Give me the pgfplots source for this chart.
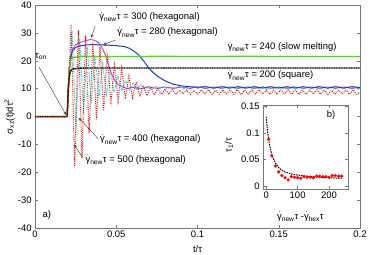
\documentclass[border=0pt]{standalone}
\usepackage{fontspec}
\setmainfont{Liberation Sans}
\usepackage{amsmath}
\usepackage{pgfplots}
\pgfplotsset{compat=1.18}
\definecolor{cgreen}{RGB}{70,225,20}
\definecolor{cblue}{RGB}{30,60,210}
\definecolor{cmag}{RGB}{180,70,210}
\definecolor{ccyan}{RGB}{70,225,210}
\definecolor{cframe}{RGB}{120,120,120}
\newcommand{\gd}[1]{$\dot{\text{γ}}_{\text{#1}}$τ}
\begin{document}
\fontsize{9.5}{11}\selectfont
\begin{tikzpicture}
\begin{axis}[
  scale only axis, width=325bp, height=223bp,
  xmin=0, xmax=0.2, ymin=-40, ymax=40,
  xtick={0,0.05,0.1,0.15,0.2}, xticklabels={0,0.05,0.1,0.15,0.2},
  ytick={-40,-30,-20,-10,0,10,20,30,40},
  yticklabels={-40,-30,-20,-10,0,10,20,30,40},
  tick align=inside, major tick length=3bp,
  axis line style={cframe}, every tick/.style={cframe},
  /pgf/number format/assume math mode=true,
  tick label style={font=\fontsize{9.5}{11}\selectfont},
  xlabel={t/τ}, ylabel={σ\textsubscript{xz}(t)dτ\textsuperscript{2}},
  x label style={at={(axis description cs:0.5,-0.093)}, anchor=center},
  y label style={at={(axis description cs:-0.078,0.5)}, anchor=center},
  clip=true,
]
% cyan (400)
\addplot[ccyan, line width=0.9pt, dash pattern=on 3pt off 1pt] coordinates {
(0,0) (0.0198,0)
(0.0228,31) (0.0252,-5) (0.0275,28) (0.0299,1) (0.0322,25) (0.0346,4.5)
(0.0369,22) (0.0393,6.5) (0.0416,19) (0.0440,7.8) (0.0463,16.5) (0.0487,8.6)
(0.0510,14.5) (0.0534,9.1) (0.0557,13) (0.0581,9.4) (0.0604,12) (0.0628,9.6)
(0.0651,11.4) (0.0675,9.7) (0.0698,11.0) (0.0722,9.8) (0.0745,10.8) (0.0769,9.9)
(0.0792,10.7) (0.0816,9.9) (0.0839,10.6) (0.0863,10.0) (0.0886,10.8) (0.0910,9.8)
(0.0933,10.6) (0.0957,9.9) (0.0980,10.7) (0.1004,10.0) (0.1027,10.8) (0.1051,9.8)
(0.1074,10.6) (0.1098,9.9) (0.1121,10.7) (0.1145,10.0) (0.1168,10.8) (0.1192,9.9)
(0.1215,10.6) (0.1239,9.8) (0.1262,10.7) (0.1286,9.9) (0.1309,10.8) (0.1333,10.0)
(0.1356,10.6) (0.1380,9.9) (0.1403,10.7) (0.1427,9.8) (0.1450,10.8) (0.1474,9.9)
(0.1497,10.6) (0.1521,10.0) (0.1544,10.7) (0.1568,9.9) (0.1591,10.8) (0.1615,9.8)
(0.1638,10.6) (0.1662,9.9) (0.1685,10.7) (0.1709,10.0) (0.1732,10.8) (0.1756,9.9)
(0.1779,10.6) (0.1803,9.8) (0.1826,10.7) (0.1850,9.9) (0.1873,10.8) (0.1897,10.0)
(0.1920,10.6) (0.1944,9.9) (0.1967,10.7) (0.1991,9.8) (0.2,10.2)
};
% magenta (300)
\addplot[cmag, line width=0.9pt] coordinates {
(0,0) (0.0198,0) (0.0205,8) (0.0212,16) (0.022,21) (0.023,24) (0.025,25.8)
(0.028,26.6) (0.031,27.2) (0.034,27.6) (0.037,27.3) (0.039,26.5) (0.041,25)
(0.043,22.5) (0.045,19) (0.047,15.5) (0.049,13) (0.051,11.5) (0.054,10.6)
(0.057,10.0) (0.060,10.5) (0.065,10.0) (0.070,10.6) (0.075,10.1) (0.080,10.6)
(0.085,10.1) (0.090,10.6) (0.095,10.1) (0.100,10.6) (0.105,10.1) (0.110,10.6)
(0.115,10.1) (0.120,10.6) (0.125,10.1) (0.130,10.6) (0.135,10.1) (0.140,10.6)
(0.145,10.1) (0.150,10.6) (0.155,10.1) (0.160,10.6) (0.165,10.1) (0.170,10.6)
(0.175,10.1) (0.180,10.6) (0.185,10.1) (0.190,10.6) (0.195,10.1) (0.200,10.4)
};
% blue (280)
\addplot[cblue, line width=1pt] coordinates {
(0,0) (0.0198,0) (0.0205,10) (0.021,17) (0.022,21.5) (0.023,23.5) (0.025,24.8)
(0.028,25.4) (0.032,25.7) (0.036,25.8) (0.040,25.7) (0.045,25.6) (0.050,25.4)
(0.055,25.1) (0.058,24.5) (0.061,23.4) (0.064,22.0) (0.067,19.8) (0.070,17.4)
(0.073,15.6) (0.076,14.2) (0.080,12.8) (0.085,11.6) (0.090,11.0) (0.095,10.7)
(0.100,10.5) (0.105,10.7) (0.110,10.2) (0.115,10.7) (0.120,10.2) (0.125,10.7)
(0.130,10.2) (0.135,10.7) (0.140,10.2) (0.145,10.7) (0.150,10.2) (0.155,10.7)
(0.160,10.2) (0.165,10.7) (0.170,10.2) (0.175,10.7) (0.180,10.2) (0.185,10.7)
(0.190,10.2) (0.195,10.7) (0.200,10.4)
};
% green (240)
\addplot[cgreen, line width=1.3pt] coordinates {
(0,0) (0.0198,0) (0.0204,10) (0.0210,17) (0.0218,20.3) (0.023,21.1) (0.026,21.4)
(0.03,21.5) (0.05,21.5) (0.08,21.6) (0.1,21.5) (0.13,21.6) (0.16,21.5) (0.2,21.5)
};
% black (200)
\addplot[black, line width=1.5pt, dash pattern=on 1.2pt off 0.5pt] coordinates {
(0,0) (0.0198,0) (0.0204,9) (0.0210,14) (0.0218,16.3) (0.023,17.0) (0.026,17.3)
(0.03,17.4) (0.06,17.4) (0.1,17.4) (0.15,17.4) (0.2,17.4)
};
% red (500)
\addplot[red, line width=1pt, dash pattern=on 0.9pt off 1.3pt] coordinates {
(0,0) (0.0198,0)
(0.0222,33) (0.0244,-18) (0.0267,31) (0.0289,-15) (0.0311,29) (0.0333,-6)
(0.0356,26.5) (0.0378,-1) (0.0400,25) (0.0422,2) (0.0445,22.8) (0.0467,4)
(0.0489,19.6) (0.0511,5.5) (0.0534,17.4) (0.0556,6.3) (0.0578,14.5) (0.0600,6.8)
(0.0623,12.5) (0.0645,7.2) (0.0667,11.2) (0.0689,7.5) (0.0712,10.5) (0.0734,7.7)
(0.0756,10.1) (0.0778,7.9) (0.0801,9.9) (0.0823,8.0) (0.0845,9.7) (0.0867,8.0)
(0.0890,9.5) (0.0912,8.1) (0.0934,9.6) (0.0956,7.9) (0.0979,9.4) (0.1001,8.0)
(0.1023,9.5) (0.1045,8.1) (0.1068,9.6) (0.1090,7.9) (0.1112,9.4) (0.1134,8.0)
(0.1157,9.5) (0.1179,8.1) (0.1201,9.5) (0.1223,8.0) (0.1246,9.6) (0.1268,7.9)
(0.1290,9.4) (0.1312,8.0) (0.1335,9.5) (0.1357,8.1) (0.1379,9.6) (0.1401,8.0)
(0.1424,9.5) (0.1446,7.9) (0.1468,9.4) (0.1490,8.0) (0.1513,9.5) (0.1535,8.1)
(0.1557,9.6) (0.1579,8.0) (0.1602,9.5) (0.1624,7.9) (0.1646,9.4) (0.1668,8.0)
(0.1691,9.5) (0.1713,8.1) (0.1735,9.6) (0.1757,8.0) (0.1780,9.5) (0.1802,7.9)
(0.1824,9.4) (0.1846,8.0) (0.1869,9.5) (0.1891,8.1) (0.1913,9.5) (0.1935,8.0)
(0.1958,9.6) (0.1980,7.9) (0.2,8.8)
};
% annotations
\node[anchor=west, inner sep=0pt] at (axis cs:0.0395,35.7) {\gd{new} = 300 (hexagonal)};
\node[anchor=west, inner sep=0pt] at (axis cs:0.0506,30.2) {\gd{new} = 280 (hexagonal)};
\node[anchor=west, inner sep=0pt] at (axis cs:0.1185,24.9) {\gd{new} = 240 (slow melting)};
\node[anchor=west, inner sep=0pt] at (axis cs:0.1185,14.8) {\gd{new} = 200 (square)};
\node[anchor=west, inner sep=0pt] at (axis cs:0.0400,-8.3) {\gd{new} = 400 (hexagonal)};
\node[anchor=west, inner sep=0pt] at (axis cs:0.0310,-15.5) {\gd{new} = 500 (hexagonal)};
\node[anchor=west, inner sep=0pt] at (axis cs:0.0,21.5) {τ\textsubscript{on}};
\node[anchor=west, inner sep=0pt] at (axis cs:0.0045,-35.3) {a)};
\draw[-stealth, black!80] (axis cs:0.037,32.4) -- (axis cs:0.0346,28.3);
\draw[-stealth, black!80] (axis cs:0.0494,27.4) -- (axis cs:0.042,25.8);
\draw[-stealth, black!80] (axis cs:0.0025,17.7) -- (axis cs:0.0191,0.6);
\draw[-stealth, black!80] (axis cs:0.0389,-8.0) -- (axis cs:0.027,-0.5);
\draw[-stealth, black!80] (axis cs:0.029,-14.4) -- (axis cs:0.0241,-10.1);
\end{axis}
\begin{axis}[
  at={(228bp,39bp)}, anchor=south west,
  scale only axis, width=85bp, height=84bp,
  xmin=-10, xmax=260, ymin=-0.005, ymax=0.152,
  xtick={0,100,200}, xticklabels={0,100,200},
  ytick={0,0.05,0.1,0.15}, yticklabels={0,0.05,0.1,0.15},
  tick align=inside, major tick length=3bp,
  axis line style={cframe}, every tick/.style={cframe},
  axis background/.style={fill=white},
  tick label style={font=\fontsize{9.5}{11}\selectfont},
  xlabel={\gd{new} -\gd{hex}},
  ylabel={τ\textsubscript{1}/τ},
  x label style={at={(axis description cs:0.44,-0.33)}, anchor=center},
  y label style={at={(axis description cs:-0.40,0.52)}, anchor=center},
]
\addplot[black, line width=1pt, dash pattern=on 1.5pt off 1pt] coordinates {
(0,0.13) (5,0.10) (10,0.08) (15,0.066) (20,0.056) (30,0.043) (40,0.035)
(50,0.030) (60,0.027) (80,0.023) (100,0.021) (130,0.019) (160,0.017)
(200,0.016) (240,0.015)
};
\addplot[only marks, mark=*, mark size=1.4pt, red, mark options={draw=red, fill=red}] coordinates {
(8,0.088) (18,0.057) (30,0.038) (40,0.027) (50,0.020) (60,0.016) (70,0.012)
(80,0.018) (90,0.017) (100,0.016) (110,0.015) (120,0.018) (130,0.017)
(140,0.017) (150,0.016) (160,0.019) (170,0.019) (180,0.018) (190,0.018)
(200,0.017) (210,0.020) (220,0.020) (230,0.019) (240,0.019)
};
\node[anchor=center, inner sep=0pt] at (axis cs:206,0.134) {b)};
\end{axis}
\pgfresetboundingbox
\path (-35bp,-27bp) rectangle (335bp,228bp);
\end{tikzpicture}
\end{document}
